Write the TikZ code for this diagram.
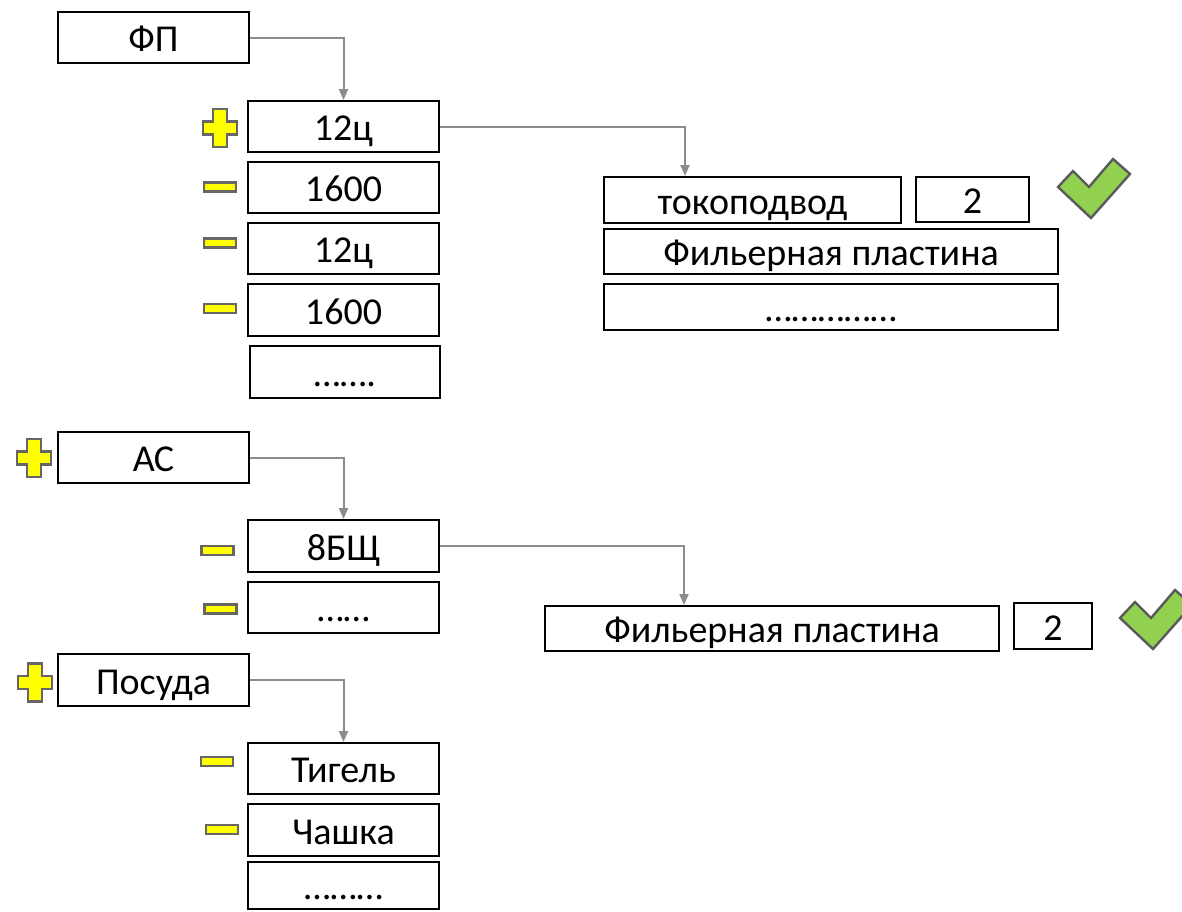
\documentclass[tikz,border=0pt]{standalone}
\usepackage{fontspec}
\setmainfont{Carlito}
\usetikzlibrary{arrows.meta,calc}
\definecolor{signyellow}{HTML}{FFFF00}
\definecolor{signgray}{HTML}{666666}
\definecolor{okgreen}{HTML}{92D050}
\definecolor{okgray}{HTML}{5A5A5A}
\definecolor{linkgray}{HTML}{8C8C8C}
\tikzset{
  box/.style={draw=black, line width=2pt, fill=white, inner sep=0pt,
    font=\fontsize{38}{46}\selectfont, text height=31pt, text depth=3pt},
  linkarrow/.style={draw=linkgray, line width=2pt, -{Triangle[length=11pt,width=9pt]}},
  plussign/.pic={
    \draw[fill=signyellow, draw=signgray, line width=2.2pt]
      (-7,-19) -- (7,-19) -- (7,-6.5) -- (17,-6.5) -- (17,6.5) -- (7,6.5)
      -- (7,19) -- (-7,19) -- (-7,6.5) -- (-17,6.5) -- (-17,-6.5) -- (-7,-6.5) -- cycle;
  },
  minussign/.pic={
    \draw[fill=signyellow, draw=signgray, line width=2.2pt] (-16,-4.5) rectangle (16,4.5);
  },
  checkmark/.pic={
    \draw[fill=okgreen, draw=okgray, line width=2.4pt, line join=miter]
      (0,0) -- (-33,-31) -- (-18,-47) -- (-2,-31) -- (22,-59) -- (39,-44) -- cycle;
  }
}
\begin{document}
\begin{tikzpicture}[x=1pt,y=-1pt]
\useasboundingbox (0,0) rectangle (1182,911);
\fill[white] (0,0) rectangle (1182,911);
\clip (0,0) rectangle (1182,911);

% group 1
\node[box, minimum width=191pt, minimum height=51pt] (fp) at (153.5,37.5) {ФП};
\node[box, minimum width=191pt, minimum height=51pt] (c12a) at (343.5,126.5) {12ц};
\node[box, minimum width=191pt, minimum height=51pt] (c1600a) at (343.5,187.5) {1600};
\node[box, minimum width=191pt, minimum height=51pt] (c12b) at (343.5,248.5) {12ц};
\node[box, minimum width=191pt, minimum height=52pt] (c1600b) at (343.5,310) {1600};
\node[box, minimum width=190pt, minimum height=52pt] (dotsA) at (345,372) {…….};

\pic at (220,128) {plussign};
\pic at (220,187) {minussign};
\pic at (220,243) {minussign};
\pic at (220,308.5) {minussign};

\node[box, minimum width=297pt, minimum height=46pt] (tok) at (752.5,200) {токоподвод};
\node[box, minimum width=113pt, minimum height=45pt] (two1) at (972.5,199.5) {2};
\node[box, minimum width=454pt, minimum height=45pt] (fil1) at (831,251.5) {Фильерная пластина};
\node[box, minimum width=454pt, minimum height=46pt] (dots1) at (831,307) {……………};
\pic at (1091,218) {checkmark};

\coordinate (tokin) at ([xshift=82pt]tok.north west);
\draw[linkarrow] (fp.east) -| (c12a.north);
\draw[linkarrow] (c12a.east) -| (tokin);

% group 2
\node[box, minimum width=191pt, minimum height=51pt] (ac) at (153.5,457.5) {АС};
\node[box, minimum width=191pt, minimum height=52pt] (b8) at (343.5,546) {8БЩ};
\node[box, minimum width=191pt, minimum height=51pt] (dotsB) at (343.5,607.5) {……};
\pic at (34,458) {plussign};
\pic at (217.5,550.5) {minussign};
\pic at (220.5,609) {minussign};

\node[box, minimum width=454pt, minimum height=45pt] (fil2) at (772,628.5) {Фильерная пластина};
\node[box, minimum width=78pt, minimum height=46pt] (two2) at (1053,626) {2};
\pic at (1153,649) {checkmark};

\coordinate (filin) at ([xshift=140pt]fil2.north west);
\draw[linkarrow] (ac.east) -| (b8.north);
\draw[linkarrow] (b8.east) -| (filin);

% group 3
\node[box, minimum width=191pt, minimum height=52pt] (pos) at (153.5,680) {Посуда};
\node[box, minimum width=191pt, minimum height=51pt] (tig) at (343.5,768.5) {Тигель};
\node[box, minimum width=191pt, minimum height=52pt] (cha) at (343.5,830) {Чашка};
\node[box, minimum width=191pt, minimum height=47pt] (dotsC) at (343.5,885.5) {………};
\pic at (35,682.5) {plussign};
\pic at (217,761.5) {minussign};
\pic at (222,829.5) {minussign};

\draw[linkarrow] (pos.east) -| (tig.north);
\end{tikzpicture}
\end{document}
